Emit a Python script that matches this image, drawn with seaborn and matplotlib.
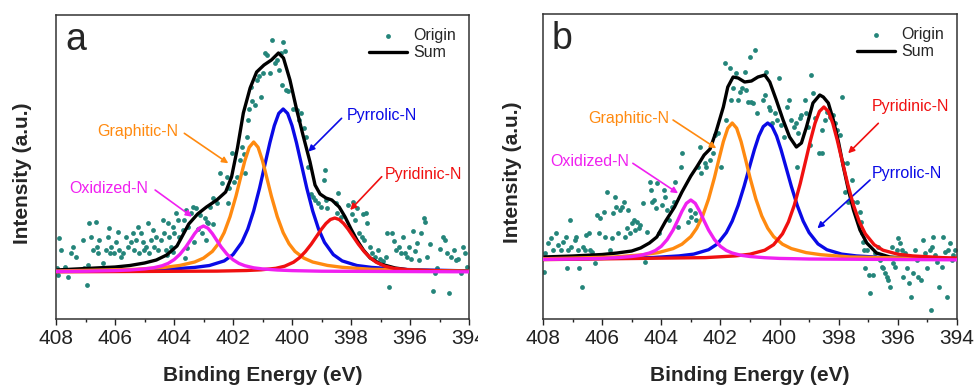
# N 1s XPS spectra, two samples (a, b), with fitted nitrogen species

import numpy as np
import pandas as pd
import matplotlib
matplotlib.use("Agg")
import matplotlib.pyplot as plt
import seaborn as sns
from matplotlib.ticker import MultipleLocator
from matplotlib.transforms import Bbox

# Data (binding energy in eV, intensity in a.u.)

# panel a - measured points (Origin)
origin_a = [
    (407.97, 4), (407.89, 34), (407.83, 22), (407.94, -3), (407.70, 5), (407.60, -5),
    (407.44, 25), (407.49, 19), (407.32, 15), (407.10, 32), (407.04, 4), (406.93, 7),
    (406.95, -13), (406.87, 49), (406.81, 35), (406.64, 50), (406.76, 22), (406.62, 25),
    (406.59, 19), (406.53, 32), (406.42, 9), (406.31, 22), (406.25, 35), (406.19, 44),
    (406.17, 19), (406.14, 25), (406.02, 19), (405.97, 30), (405.91, 40), (405.85, 22),
    (405.80, 15), (405.74, 19), (405.63, 35), (405.57, 25), (405.46, 30), (405.40, 39),
    (405.34, 22), (405.29, 32), (405.23, 45), (405.18, 19), (405.12, 39), (405.06, 30),
    (405.01, 22), (404.95, 25), (404.89, 49), (404.84, 19), (404.78, 32), (404.72, 42),
    (404.67, 25), (404.61, 35), (404.55, 22), (404.44, 32), (404.38, 52), (404.33, 39),
    (404.27, 22), (404.25, 17), (404.21, 49), (404.16, 35), (404.10, 25), (404.05, 45),
    (404.03, 20), (403.99, 39), (403.93, 59), (403.88, 52), (403.82, 35), (403.71, 42),
    (403.65, 52), (403.63, 14), (403.59, 62), (403.57, 24), (403.54, 45), (403.42, 59),
    (403.37, 65), (403.32, 30), (403.25, 64), (403.18, 43), (403.12, 57), (403.06, 39),
    (402.95, 54), (402.91, 32), (402.89, 50), (402.84, 49), (402.78, 65), (402.69, 48),
    (402.67, 74), (402.55, 69), (402.44, 99), (402.38, 89), (402.21, 95), (402.16, 69),
    (402.12, 84), (402.05, 119), (401.97, 90), (401.88, 95), (401.76, 112), (401.71, 125),
    (401.63, 118), (401.60, 99), (401.54, 135), (401.48, 152), (401.45, 163), (401.40, 185),
    (401.35, 171), (401.24, 167), (401.20, 192), (401.13, 196), (401.06, 175), (401.00, 199),
    (400.93, 219), (400.84, 217), (400.75, 199), (400.69, 232), (400.57, 209), (400.50, 212),
    (400.43, 202), (400.39, 219), (400.34, 187), (400.29, 230), (400.23, 221), (400.20, 182),
    (400.14, 181), (399.96, 163), (399.82, 162), (399.75, 152), (399.68, 159), (399.59, 144),
    (399.52, 135), (399.46, 105), (399.37, 78), (399.30, 75), (399.23, 72), (399.12, 69),
    (399.03, 65), (398.92, 92), (398.88, 102), (398.85, 72), (398.80, 64), (398.51, 69),
    (398.46, 59), (398.43, 79), (398.35, 55), (398.09, 67), (397.98, 58), (397.92, 70),
    (397.86, 52), (397.81, 64), (397.72, 39), (397.64, 35), (397.58, 58), (397.56, 32),
    (397.49, 59), (397.45, 49), (397.36, 25), (397.30, 19), (397.19, 15), (397.07, 22),
    (397.02, 13), (396.90, 11), (396.81, 15), (396.77, 39), (396.70, -15), (396.62, 39),
    (396.54, 31), (396.48, 22), (396.38, 25), (396.32, 19), (396.25, 35), (396.18, 19),
    (396.11, 15), (396.05, 25), (395.98, 13), (395.91, 41), (395.82, 21), (395.75, 29),
    (395.68, 12), (395.64, 39), (395.53, 54), (395.48, 50), (395.41, 15), (395.32, 28),
    (395.23, -19), (395.16, -1), (395.07, 4), (394.98, 23), (394.89, 35), (394.80, 32),
    (394.74, 19), (394.67, -21), (394.60, 15), (394.51, 22), (394.44, 12), (394.37, 13),
    (394.28, -1), (394.21, 25), (394.15, 19), (394.08, 5),
]

# panel a - envelope (Sum)
sum_a_be = [408.0, 407.0, 406.0, 405.5, 405.0, 404.6, 404.25, 403.9, 403.5, 403.2,
            402.9, 402.55, 402.25, 402.05, 401.85, 401.65, 401.42, 401.2, 400.95, 400.7,
            400.46, 400.29, 400.07, 399.84, 399.62, 399.39, 399.22, 399.05, 398.85, 398.65,
            398.4, 398.2, 398.0, 397.8, 397.58, 397.35, 397.0, 396.5, 396.0, 395.0, 394.0]
sum_a_int = [2, 3.5, 5, 6.5, 9, 12, 17, 26, 48, 58,
             65, 72, 80, 95, 124, 159, 184, 200, 207, 212,
             219, 214, 192, 162, 136, 110, 87, 78, 74, 72,
             65, 55, 43, 32, 22, 14, 8, 4, 2, 1, 1]

# panel a - fitted components
oxid_a_be = [408.0, 407.0, 406.0, 405.5, 405.0, 404.7, 404.4, 404.2, 404.0, 403.8,
             403.6, 403.45, 403.3, 403.15, 403.0, 402.85, 402.7, 402.55, 402.4, 402.2,
             402.0, 401.8, 401.6, 401.3, 401.0, 400.5, 400.0, 399.0, 394.0]
oxid_a_int = [0.5, 0.8, 1.4, 2.0, 3.1, 4.2, 6.3, 8.6, 12.3, 17.7,
              25.0, 31.6, 38.4, 43.8, 46, 43.8, 38.4, 31.6, 25.0, 17.7,
              12.3, 8.6, 6.3, 4.2, 3.1, 2.0, 1.4, 0.8, 0.2]

graph_a_be = [408.0, 405.3, 404.3, 403.8, 403.3, 403.0, 402.7, 402.5, 402.3, 402.1,
              401.9, 401.75, 401.6, 401.45, 401.3, 401.15, 401.0, 400.85, 400.7, 400.5,
              400.3, 400.1, 399.9, 399.6, 399.3, 398.8, 398.3, 397.3, 394.0]
graph_a_int = [1.0, 2.7, 4.7, 6.6, 10.0, 13.9, 20.6, 28.2, 39.4, 55.4,
               75.9, 93.7, 111.2, 124.7, 130, 124.7, 111.2, 93.7, 75.9, 55.4,
               39.4, 28.2, 20.6, 13.9, 10.0, 6.6, 4.7, 2.7, 0.8]

pyrrol_a_be = [408.0, 404.3, 403.3, 402.8, 402.3, 402.0, 401.7, 401.5, 401.3, 401.1,
               400.9, 400.75, 400.6, 400.45, 400.3, 400.15, 400.0, 399.85, 399.7, 399.5,
               399.3, 399.1, 398.9, 398.6, 398.3, 397.8, 397.3, 396.3, 394.0]
pyrrol_a_int = [0.7, 2.6, 4.6, 6.5, 11.1, 17.4, 29.7, 42.9, 61.1, 83.9,
                109.9, 129.4, 146.4, 158.6, 163, 158.6, 146.4, 129.4, 109.9, 83.9,
                61.1, 42.9, 29.7, 17.4, 11.1, 6.5, 4.6, 2.6, 1.1]

pyrid_a_be = [408.0, 402.55, 401.55, 401.05, 400.55, 400.25, 399.95, 399.75, 399.55, 399.35,
              399.15, 399.0, 398.85, 398.7, 398.55, 398.4, 398.25, 398.1, 397.95, 397.75,
              397.55, 397.35, 397.15, 396.85, 396.55, 396.05, 395.55, 394.55, 394.0]
pyrid_a_int = [0.2, 0.9, 1.5, 2.2, 3.7, 5.8, 9.8, 14.2, 20.3, 27.8,
               36.4, 42.9, 48.5, 52.5, 54, 52.5, 48.5, 42.9, 36.4, 27.8,
               20.3, 14.2, 9.8, 5.8, 3.7, 2.2, 1.5, 0.9, 0.7]

# panel b - measured points (Origin)
origin_b = [
    (407.94, 7), (407.96, -12), (407.83, 17), (407.72, 22), (407.66, 10), (407.55, 27),
    (407.49, 15), (407.38, 10), (407.32, 18), (407.21, 23), (407.15, 10), (407.19, -8),
    (407.10, 40), (407.04, 13), (406.93, 20), (406.87, 23), (406.82, 10), (406.78, -8),
    (406.68, -27), (406.65, 13), (406.59, 10), (406.53, 25), (406.44, 27), (406.40, 10),
    (406.33, 8), (406.23, -3), (406.17, 45), (406.12, 27), (406.06, 42), (405.95, 48),
    (405.90, 23), (405.84, 68), (405.72, 10), (405.68, 22), (405.63, 47), (405.56, 63),
    (405.52, 53), (405.45, 27), (405.38, 50), (405.32, 53), (405.27, 58), (405.22, 23),
    (405.16, 32), (405.11, 50), (405.05, 27), (404.99, 37), (404.93, 40), (404.88, 30),
    (404.82, 38), (404.75, 32), (404.71, 35), (404.62, 57), (404.55, -2), (404.48, 28),
    (404.39, 78), (404.35, 70), (404.30, 58), (404.26, 60), (404.19, 52), (404.14, 77),
    (404.08, 27), (403.99, 55), (403.92, 70), (403.87, 63), (403.81, 50), (403.74, 40),
    (403.65, 53), (403.58, 58), (403.54, 78), (403.42, 33), (403.33, 93), (403.31, 107),
    (403.10, 38), (402.98, 43), (402.87, 47), (402.81, 40), (403.04, 50), (402.76, 93),
    (402.70, 113), (402.64, 87), (402.53, 97), (402.48, 93), (402.36, 100), (402.25, 107),
    (402.19, 125), (402.08, 127), (401.97, 93), (401.86, 197), (401.80, 140), (401.69, 192),
    (401.63, 160), (401.57, 172), (401.46, 187), (401.40, 160), (401.33, 168), (401.26, 172),
    (401.18, 188), (401.12, 170), (401.07, 158), (401.01, 203), (400.95, 158), (400.90, 157),
    (400.84, 210), (400.76, 147), (400.56, 160), (400.50, 165), (400.45, 188), (400.36, 153),
    (400.31, 150), (400.24, 137), (400.16, 147), (400.09, 140), (400.02, 182), (399.94, 135),
    (399.86, 123), (399.75, 153), (399.68, 160), (399.60, 140), (399.52, 133), (399.43, 137),
    (399.41, 93), (399.38, 127), (399.32, 142), (399.26, 145), (399.15, 160), (399.09, 147),
    (399.04, 133), (398.98, 115), (398.92, 185), (398.87, 167), (398.81, 142), (398.67, 107),
    (398.58, 130), (398.56, 107), (398.46, 140), (398.41, 148), (398.29, 143), (398.18, 145),
    (398.12, 137), (398.07, 130), (397.90, 163), (397.96, 125), (397.84, 97), (397.73, 97),
    (397.79, 68), (397.67, 58), (397.56, 80), (397.50, 58), (397.39, 58), (397.28, 48),
    (397.26, 38), (397.22, 27), (397.17, 18), (397.15, 10), (397.05, 10), (397.11, -8),
    (396.99, -15), (396.94, -33), (396.83, -15), (396.77, 7), (396.66, 13), (396.60, 0),
    (396.55, -7), (396.49, -8), (396.43, -13), (396.38, -17), (396.32, -20), (396.26, -27),
    (396.21, 13), (396.15, -3), (396.09, -7), (396.04, 10), (395.98, 22), (395.93, 17),
    (395.87, 10), (395.84, -17), (395.76, 7), (395.68, -8), (395.61, -23), (395.57, -37),
    (395.50, -13), (395.42, 10), (395.36, 0), (395.31, -17), (395.23, -20), (395.14, 20),
    (395.08, 7), (395.03, -8), (394.91, 10), (394.85, 13), (394.80, 23), (394.74, 5),
    (394.69, -2), (394.60, -27), (394.52, -7), (394.46, 23), (394.40, 8), (394.35, -37),
    (394.29, 10), (394.23, 17), (394.18, 0), (394.12, 5), (394.06, 10), (394.89, -50),
]

# panel b - envelope (Sum)
sum_b_be = [408.0, 407.0, 406.0, 405.5, 405.0, 404.7, 404.4, 404.15, 403.85, 403.55,
            403.3, 403.0, 402.8, 402.55, 402.35, 402.15, 401.9, 401.75, 401.57, 401.4,
            401.18, 400.95, 400.73, 400.5, 400.33, 400.11, 399.88, 399.66, 399.43, 399.26,
            399.09, 398.87, 398.64, 398.52, 398.35, 398.18, 398.0, 397.84, 397.67, 397.5,
            397.28, 397.05, 396.72, 396.27, 395.8, 395.0, 394.0]
sum_b_int = [3, 4, 5.5, 7, 9, 12, 17, 23, 39, 53,
             68, 84, 93, 105, 111, 128, 153, 173, 183, 182,
             178, 179, 183, 185, 178, 160, 140, 123, 113, 117,
             133, 157, 165, 163, 157, 140, 117, 93, 70, 50,
             30, 17, 7, 3, 2, 1.5, 1.5]

# panel b - fitted components
oxid_b_be = [408.0, 407.0, 406.0, 405.5, 405.0, 404.7, 404.4, 404.2, 404.0, 403.8,
             403.6, 403.45, 403.3, 403.15, 403.0, 402.85, 402.7, 402.55, 402.4, 402.2,
             402.0, 401.8, 401.6, 401.3, 401.0, 400.5, 400.0, 399.0, 394.0]
oxid_b_int = [0.6, 1.0, 1.6, 2.3, 3.5, 4.7, 7.0, 9.5, 13.7, 20.4,
              30.0, 39.1, 48.7, 56.7, 60, 56.7, 48.7, 39.1, 30.0, 20.4,
              13.7, 9.5, 7.0, 4.7, 3.5, 2.3, 1.6, 1.0, 0.2]

graph_b_be = [408.0, 405.6, 404.6, 404.1, 403.6, 403.3, 403.0, 402.8, 402.6, 402.4,
              402.2, 402.05, 401.9, 401.75, 401.6, 401.45, 401.3, 401.15, 401.0, 400.8,
              400.6, 400.4, 400.2, 399.9, 399.6, 399.1, 398.6, 397.6, 394.0]
graph_b_int = [1.2, 3.0, 5.3, 7.4, 11.4, 15.8, 23.4, 31.8, 44.0, 61.0,
               82.5, 100.8, 118.4, 131.8, 137, 131.8, 118.4, 100.8, 82.5, 61.0,
               44.0, 31.8, 23.4, 15.8, 11.4, 7.4, 5.3, 3.0, 0.9]

pyrrol_b_be = [408.0, 404.4, 403.4, 402.9, 402.4, 402.1, 401.8, 401.6, 401.4, 401.2,
               401.0, 400.85, 400.7, 400.55, 400.4, 400.25, 400.1, 399.95, 399.8, 399.6,
               399.4, 399.2, 399.0, 398.7, 398.4, 397.9, 397.4, 396.4, 394.0]
pyrrol_b_int = [0.7, 2.3, 4.1, 5.9, 10.3, 16.1, 27.4, 38.9, 54.5, 73.6,
                94.7, 110.4, 124.0, 133.4, 137, 133.4, 124.0, 110.4, 94.7, 73.6,
                54.5, 38.9, 27.4, 16.1, 10.3, 5.9, 4.1, 2.3, 0.9]

pyrid_b_be = [408.0, 402.5, 401.5, 401.0, 400.5, 400.2, 399.9, 399.7, 399.5, 399.3,
              399.1, 398.95, 398.8, 398.65, 398.5, 398.35, 398.2, 398.05, 397.9, 397.7,
              397.5, 397.3, 397.1, 396.8, 396.5, 396.0, 395.5, 394.5, 394.0]
pyrid_b_int = [0.4, 2.4, 4.1, 5.8, 9.8, 15.3, 26.2, 38.1, 54.9, 76.5,
               101.3, 120.1, 136.8, 148.6, 153, 148.6, 136.8, 120.1, 101.3, 76.5,
               54.9, 38.1, 26.2, 15.3, 9.8, 5.8, 4.1, 2.4, 1.9]

x_ticks = [408, 406, 404, 402, 400, 398, 396, 394]

# Style

sns.set_style("ticks")
plt.rcParams['font.family'] = ['Liberation Sans', 'DejaVu Sans']

c_origin = '#24857a'
c_blue = '#0a0ae6'
c_orange = '#ff8a10'
c_red = '#f01010'
c_magenta = '#f020f0'

fig = plt.figure(figsize=(9.79, 3.88), dpi=100)
ax_a = fig.add_axes([0.0572, 0.1778, 0.4219, 0.7835])
ax_b = fig.add_axes([0.5546, 0.1778, 0.4229, 0.7861])


def draw_panel(ax, origin, sum_be, sum_int, comps, letter, ylim):
    pts = pd.DataFrame(origin, columns=['be', 'intensity'])
    sns.scatterplot(data=pts, x='be', y='intensity', ax=ax, color=c_origin,
                    s=12, linewidth=0, label='Origin', zorder=1)
    sns.lineplot(x=sum_be, y=sum_int, ax=ax, color='black', lw=2.4,
                 sort=False, estimator=None, label='Sum', zorder=2)
    for i, (be, inten, col) in enumerate(comps):
        sns.lineplot(x=be, y=inten, ax=ax, color=col, lw=2.4,
                     sort=False, estimator=None, zorder=3 + i)

    ax.set_xlim(408, 394)
    ax.set_ylim(*ylim)
    ax.set_xticks(x_ticks)
    ax.xaxis.set_minor_locator(MultipleLocator(1))
    ax.set_yticks([])
    ax.tick_params(axis='x', which='major', direction='out', length=4.5,
                   width=1, labelsize=15, pad=3, colors='#222222')
    ax.tick_params(axis='x', which='minor', direction='out', length=2.5,
                   width=1, colors='#222222')
    for sp in ax.spines.values():
        sp.set_linewidth(1.1)
        sp.set_color('#333333')

    ax.set_xlabel('Binding Energy (eV)', fontsize=15, fontweight='bold', labelpad=13)
    ax.set_ylabel('Intensity (a.u.)', fontsize=15, fontweight='bold')

    ax.text(0.022, 0.885, letter, transform=ax.transAxes, fontsize=27,
            ha='left', va='baseline')

    h, l = ax.get_legend_handles_labels()
    ax.legend(h, l, loc='upper right', frameon=False, fontsize=11.5,
              handlelength=2.4, handletextpad=0.4, labelspacing=0.15,
              borderaxespad=0.4, scatterpoints=1)


def note(ax, label, col, text_xy, tail, head):
    ax.text(text_xy[0], text_xy[1], label, color=col, fontsize=11.5,
            ha='left', va='center')
    ax.annotate('', xy=head, xytext=tail,
                arrowprops=dict(arrowstyle='-|>', color=col, lw=1.2,
                                mutation_scale=9, shrinkA=0, shrinkB=0))


# Panel a
draw_panel(ax_a, origin_a, sum_a_be, sum_a_int,
           [(pyrrol_a_be, pyrrol_a_int, c_blue),
            (graph_a_be, graph_a_int, c_orange),
            (pyrid_a_be, pyrid_a_int, c_red),
            (oxid_a_be, oxid_a_int, c_magenta)],
           'a', (-47, 257))
note(ax_a, 'Graphitic-N', c_orange, (406.59, 141), (403.65, 138.7), (402.16, 108.7))
note(ax_a, 'Oxidized-N', c_magenta, (407.55, 83.7), (404.64, 82), (403.39, 55.3))
note(ax_a, 'Pyrrolic-N', c_blue, (398.15, 156.3), (398.32, 153.7), (399.45, 120.3))
note(ax_a, 'Pyridinic-N', c_red, (396.85, 98), (396.96, 95.3), (398.03, 62))
ax_a.yaxis.set_label_coords(-0.059, 0.479)

# Panel b
draw_panel(ax_b, origin_b, sum_b_be, sum_b_int,
           [(pyrrol_b_be, pyrrol_b_int, c_blue),
            (graph_b_be, graph_b_int, c_orange),
            (pyrid_b_be, pyrid_b_int, c_red),
            (oxid_b_be, oxid_b_int, c_magenta)],
           'b', (-59, 246))
note(ax_b, 'Graphitic-N', c_orange, (406.48, 141.7), (403.60, 140), (402.14, 111.7))
note(ax_b, 'Oxidized-N', c_magenta, (407.77, 98.3), (404.96, 96.7), (403.43, 66.7))
note(ax_b, 'Pyridinic-N', c_red, (396.88, 153.3), (396.66, 136.7), (397.68, 106.7))
note(ax_b, 'Pyrrolic-N', c_blue, (396.88, 86.7), (396.94, 80), (398.72, 31.7))
ax_b.yaxis.set_label_coords(-0.0515, 0.48)

# the right-most label of panel a is cut off in the source image
fig.canvas.draw()
for lbl in ax_a.get_xticklabels():
    if lbl.get_text() == '394':
        lbl.set_clip_box(Bbox.from_extents(0, 0, 478, 388))
        lbl.set_clip_on(True)

plt.savefig('out.png', dpi=100)
